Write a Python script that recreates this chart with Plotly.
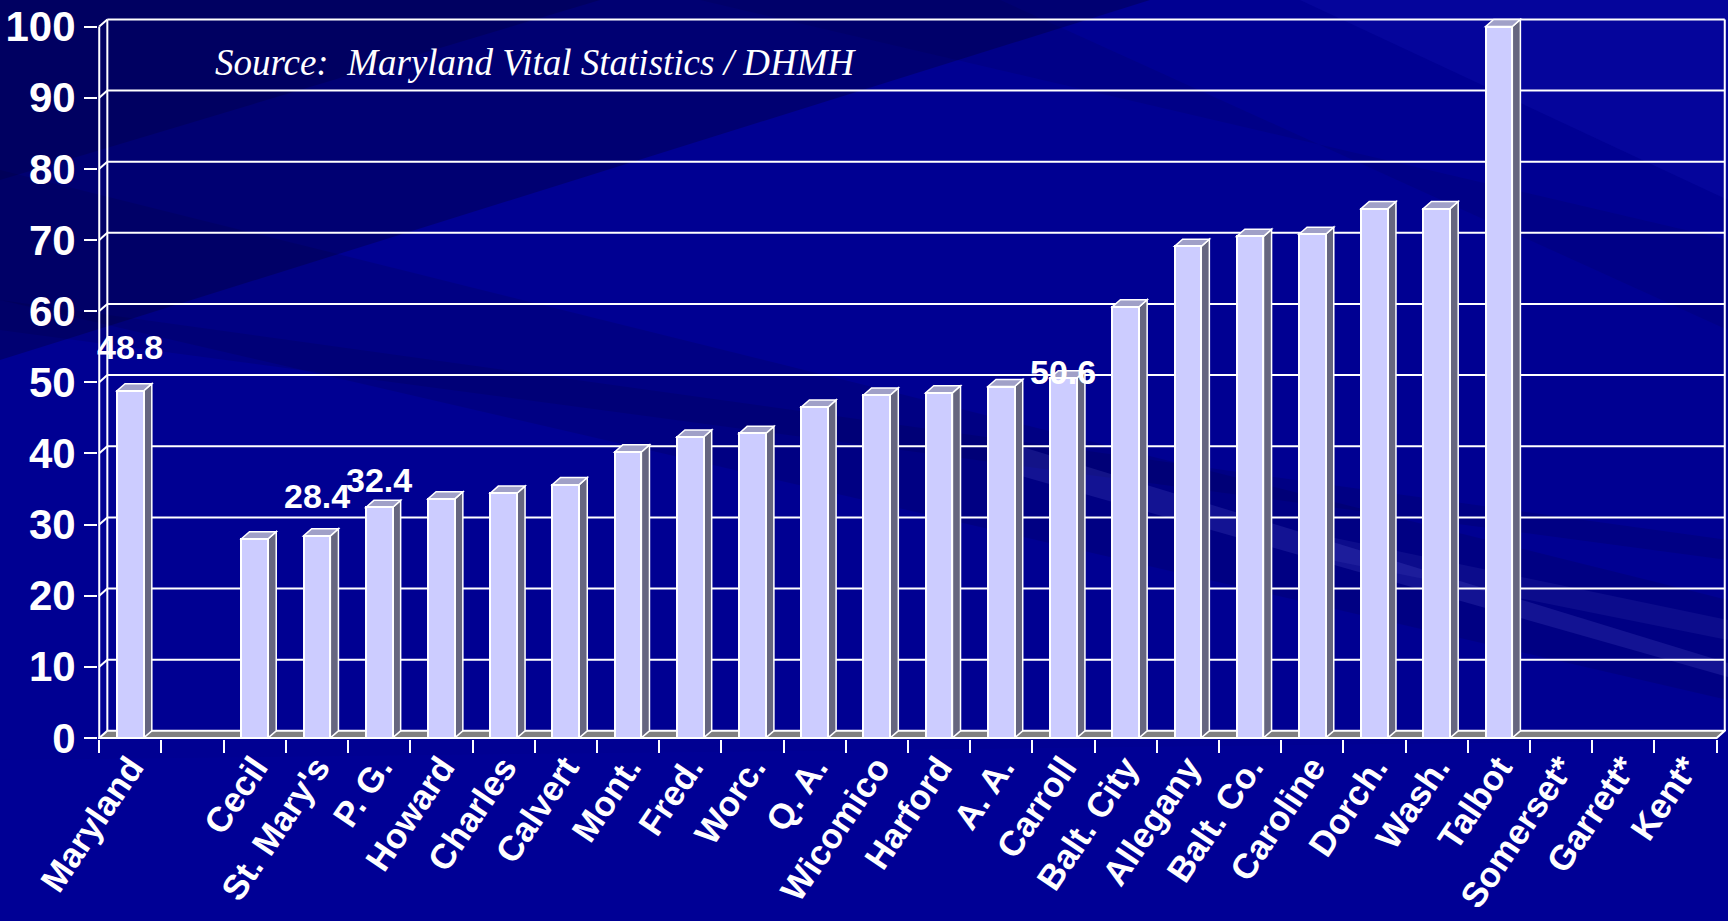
import plotly.graph_objects as go

# ---- data ----
counties = ["Maryland", "", "Cecil", "St. Mary's", "P. G.", "Howard", "Charles", "Calvert",
            "Mont.", "Fred.", "Worc.", "Q. A.", "Wicomico", "Harford", "A. A.", "Carroll",
            "Balt. City", "Allegany", "Balt. Co.", "Caroline", "Dorch.", "Wash.", "Talbot",
            "Somerset*", "Garrett*", "Kent*"]
rates = [48.8, None, 28.0, 28.4, 32.4, 33.6, 34.4, 35.6,
         40.2, 42.3, 42.8, 46.5, 48.2, 48.5, 49.4, 50.6,
         60.6, 69.1, 70.5, 70.8, 74.4, 74.4, 100.0,
         None, None, None]
labeled = ["Maryland", "St. Mary's", "P. G.", "Carroll"]
y_ticks = [0, 10, 20, 30, 40, 50, 60, 70, 80, 90, 100]
source_text = "Source:\u00a0 Maryland Vital Statistics / DHMH"

# ---- style ----
W, H = 1728, 921
ML, MR, MT, MB = 98, 2, 18, 182
XR = [-0.52, 25.65]
YR = [-0.15, 101.2]
DX, DY = 0.13, 1.0          # 3-D depth offset (category units, value units)
BW = 0.43                    # bar width
FRONT = "#CCCCFF"
SIDE = "#666680"
TOP = "#A0A0C8"
FLOOR = "#808080"
LINE = "white"
label_shift = {"Maryland": 44, "St. Mary's": 40, "P. G.": 27, "Carroll": 6}

n = len(counties)
xs = list(range(n))
pw = W - ML - MR
ph = H - MT - MB


def px2paper(px, py):
    return (px - ML) / pw, (H - MB - py) / ph


shapes = []

# background streaks (pixel polygons)
bands = [
    ([(0, 0), (1150, 0), (0, 360)], "rgba(0,0,40,0.30)"),
    ([(0, 0), (600, 0), (0, 180)], "rgba(0,0,30,0.20)"),
    ([(0, 170), (0, 300), (1728, 700), (1728, 600)], "rgba(0,0,40,0.14)"),
    ([(0, 300), (0, 330), (1728, 560), (1728, 540)], "rgba(0,0,40,0.13)"),
    ([(700, 0), (1000, 0), (1728, 330), (1728, 240)], "rgba(0,0,40,0.10)"),
    ([(1000, 440), (1728, 663), (1728, 677), (1000, 470)], "rgba(150,150,255,0.13)"),
    ([(1330, 537), (1330, 560), (1728, 640), (1728, 620)], "rgba(150,150,255,0.08)"),
    ([(1300, 0), (1728, 0), (1728, 200)], "rgba(40,40,220,0.12)"),
    ([(0, 760), (1728, 740), (1728, 921), (0, 921)], "rgba(0,0,170,0.15)"),
]
for pts, col in bands:
    pp = [px2paper(*p) for p in pts]
    path = "M " + " L ".join(f"{a:.4f},{b:.4f}" for a, b in pp) + " Z"
    shapes.append(dict(type="path", xref="paper", yref="paper", path=path,
                       fillcolor=col, line=dict(width=0), layer="below"))


def poly(pts, fill, lw=2):
    path = "M " + " L ".join(f"{a},{b}" for a, b in pts) + " Z"
    return dict(type="path", xref="x", yref="y", path=path, fillcolor=fill,
                line=dict(color=LINE, width=lw), layer="below")


def seg(x0, y0, x1, y1, lw=2):
    return dict(type="line", xref="x", yref="y", x0=x0, y0=y0, x1=x1, y1=y1,
                line=dict(color=LINE, width=lw), layer="below")


x_lo, x_hi = -0.5, n - 0.5
# back-wall gridlines and connectors
for v in y_ticks[1:]:
    shapes.append(seg(x_lo + DX, v + DY, x_hi + DX, v + DY))
    shapes.append(seg(x_lo, v, x_lo + DX, v + DY))
# walls
shapes.append(seg(x_lo, 0, x_lo, y_ticks[-1]))
shapes.append(seg(x_lo + DX, DY, x_lo + DX, y_ticks[-1] + DY))
shapes.append(seg(x_hi + DX, DY, x_hi + DX, y_ticks[-1] + DY))
# floor
shapes.append(poly([(x_lo, 0), (x_hi, 0), (x_hi + DX, DY), (x_lo + DX, DY)], FLOOR))
# bar side / top faces
for x, v in zip(xs, rates):
    if v is None:
        continue
    l, r = x - BW / 2, x + BW / 2
    shapes.append(poly([(r, 0), (r + DX, DY), (r + DX, v + DY), (r, v)], SIDE, 1.5))
    shapes.append(poly([(l, v), (l + DX, v + DY), (r + DX, v + DY), (r, v)], TOP, 1.5))

fig = go.Figure()
fig.add_trace(go.Bar(
    x=xs, y=rates, width=BW,
    marker=dict(color=FRONT, line=dict(color=LINE, width=2)),
    hoverinfo="skip", showlegend=False))

annotations = []
for name in labeled:
    i = counties.index(name)
    annotations.append(dict(
        x=i, y=rates[i], xref="x", yref="y", text=f"{rates[i]:.1f}",
        showarrow=False, yanchor="middle", yshift=label_shift[name],
        font=dict(family="Liberation Sans, Arial", size=34, color="white", weight="bold")))
sx, sy = px2paper(213, 63)
annotations.append(dict(
    x=sx, y=sy, xref="paper", yref="paper", xanchor="left", yanchor="middle",
    text=source_text, showarrow=False,
    font=dict(family="Liberation Serif, Times New Roman", size=37, color="white",
              style="italic")))

fig.update_layout(
    width=W, height=H,
    margin=dict(l=ML, r=MR, t=MT, b=MB, pad=0),
    paper_bgcolor="#000092", plot_bgcolor="rgba(0,0,0,0)",
    shapes=shapes, annotations=annotations, bargap=0,
    xaxis=dict(range=XR, tickmode="array", tickvals=xs, ticktext=counties,
               ticks="", showgrid=False, zeroline=False, showline=False,
               automargin=False, tickangle=-56,
               tickfont=dict(family="Liberation Sans, Arial", size=35, color="white",
                             weight="bold"),
               minor=dict(tick0=-0.5, dtick=1, ticks="outside", ticklen=13,
                          tickcolor="white", tickwidth=2, showgrid=False)),
    yaxis=dict(range=YR, tickmode="array", tickvals=y_ticks,
               ticks="outside", ticklen=13, tickcolor="white", tickwidth=2,
               showgrid=False, zeroline=False, showline=False, automargin=False,
               tickfont=dict(family="Liberation Sans, Arial", size=42, color="white",
                             weight="bold")),
)

fig.write_html("out.html",
               config={"displayModeBar": False},
               post_script="document.body.style.margin='0';"
                           "document.body.style.background='#000092';")
